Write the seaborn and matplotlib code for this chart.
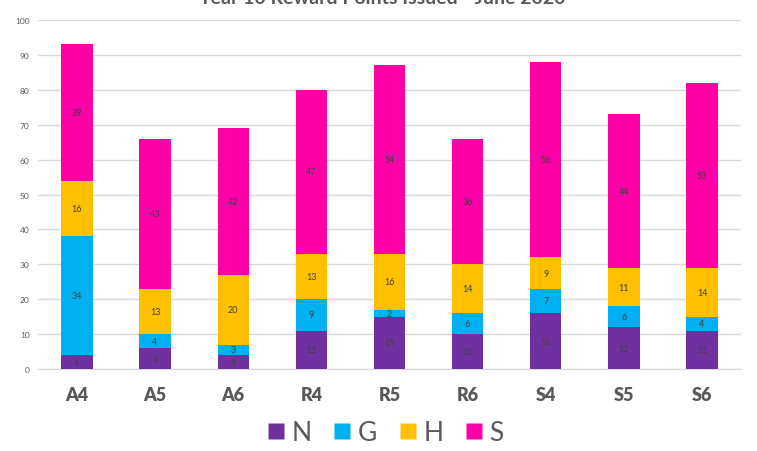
import numpy as np
import pandas as pd
import matplotlib
matplotlib.use("Agg")
import matplotlib.pyplot as plt
from matplotlib.lines import Line2D
import seaborn as sns

# Reward points per class, split by house
classes = ["A4", "A5", "A6", "R4", "R5", "R6", "S4", "S5", "S6"]
n_pts = [4, 6, 4, 11, 15, 10, 16, 12, 11]
g_pts = [34, 4, 3, 9, 2, 6, 7, 6, 4]
h_pts = [16, 13, 20, 13, 16, 14, 9, 11, 14]
s_pts = [39, 43, 42, 47, 54, 36, 56, 44, 53]

houses = ["N", "G", "H", "S"]
colours = {"N": "#7030A0", "G": "#00B0F0", "H": "#FFC000", "S": "#FF00A8"}

df = pd.DataFrame({"Class": classes, "N": n_pts, "G": g_pts, "H": h_pts, "S": s_pts})

sns.set_style("white")
plt.rcParams["font.family"] = ["Lato", "DejaVu Sans"]

fig = plt.figure(figsize=(7.57, 4.52), dpi=100)
ax = fig.add_axes([0.050, 0.1814, 0.929, 0.772])

#Cumulative tops, drawn from the tallest down so each segment shows
cum = df[houses].cumsum(axis=1)
for h in reversed(houses):
    sns.barplot(x=df["Class"], y=cum[h], color=colours[h], saturation=1,
                width=0.4, ax=ax, zorder=3, edgecolor="none")

#Segment labels
for i, row in df.iterrows():
    base = 0
    for h in houses:
        v = row[h]
        ax.text(i, base + v / 2, str(v), ha="center", va="center",
                fontsize=6.5, color="#404040", zorder=4)
        base += v

ax.set_ylim(0, 100)
ax.set_xlim(-0.5, len(classes) - 0.5)
ax.set_yticks(range(0, 101, 10))
ax.yaxis.grid(True, color="#D9D9D9", linewidth=1, zorder=0)
ax.set_axisbelow(True)
for sp in ["top", "right", "left"]:
    ax.spines[sp].set_visible(False)
ax.spines["bottom"].set_color("#D9D9D9")
ax.tick_params(axis="y", length=0, labelsize=6, labelcolor="#595959", pad=6)
ax.tick_params(axis="x", length=0, labelsize=13, labelcolor="#595959", pad=12)
for lbl in ax.get_xticklabels():
    lbl.set_fontweight("heavy")
ax.set_xlabel("")
ax.set_ylabel("")

fig.text(0.505, 0.991, "Year 10 Reward Points Issued - June 2020", ha="center",
         va="baseline", fontsize=14, fontweight="bold", color="#595959")

handles = [Line2D([0], [0], marker="s", linestyle="none", markersize=12,
                  markerfacecolor=colours[h], markeredgecolor="none") for h in houses]
fig.legend(handles, houses, loc="center", bbox_to_anchor=(0.508, 0.04), ncol=4,
           frameon=False, fontsize=19, labelcolor="#595959", handletextpad=0.2,
           columnspacing=0.75, handlelength=0.8)

fig.savefig("out.png", dpi=100)
